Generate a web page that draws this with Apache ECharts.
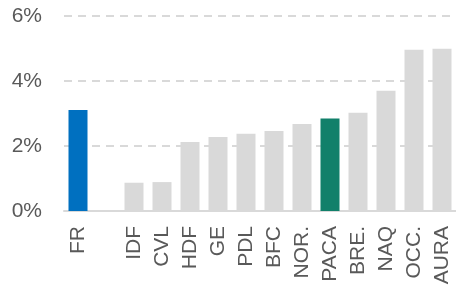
<!DOCTYPE html>
<html>
<head>
<meta charset="utf-8">
<script src="https://cdn.jsdelivr.net/npm/echarts@6/dist/echarts.min.js"></script>
<style>
  html, body { margin: 0; padding: 0; background: #fff; }
  #chart { width: 456px; height: 289px; }
</style>
</head>
<body>
<div id="chart"></div>
<script>
// régions (la case vide sépare FR du reste)
const regions = ['FR', '', 'IDF', 'CVL', 'HDF', 'GE', 'PDL', 'BFC', 'NOR.', 'PACA', 'BRE.', 'NAQ', 'OCC.', 'AURA'];
// valeurs en %
const values = [3.11, null, 0.87, 0.89, 2.12, 2.28, 2.38, 2.46, 2.68, 2.85, 3.02, 3.70, 4.96, 4.99];
const yTicks = [0, 2, 4, 6];

const colorFor = (name) => {
    if (name === 'FR') return '#0070c0';
    if (name === 'PACA') return '#11806a';
    return '#d9d9d9';
};

const myChart = echarts.init(document.getElementById('chart'), null, {renderer: 'canvas'});
myChart.setOption({
    animation: false,
    grid: {
        left: 64,
        top: 16,
        width: 398,
        bottom: 78,
        containLabel: false
    },
    xAxis: {
        type: 'category',
        data: regions,
        axisLine: {
            show: true,
            lineStyle: {color: '#d9d9d9', width: 2}
        },
        axisTick: {show: false},
        axisLabel: {
            rotate: 90,
            interval: 0,
            margin: 15,
            fontFamily: 'Liberation Sans, Arial, sans-serif',
            fontSize: 21,
            color: '#595959'
        }
    },
    yAxis: {
        type: 'value',
        min: yTicks[0],
        max: yTicks[yTicks.length - 1],
        interval: 2,
        axisLine: {show: false},
        axisTick: {show: false},
        splitLine: {
            show: true,
            lineStyle: {color: '#d9d9d9', width: 2, type: [8, 6]}
        },
        axisLabel: {
            formatter: '{value}%',
            margin: 22,
            fontFamily: 'Liberation Sans, Arial, sans-serif',
            fontSize: 21,
            color: '#595959'
        }
    },
    series: [{
        type: 'bar',
        barWidth: 19,
        data: values.map((v, i) => ({
            value: v,
            itemStyle: {color: colorFor(regions[i])}
        }))
    }]
});
</script>
</body>
</html>
